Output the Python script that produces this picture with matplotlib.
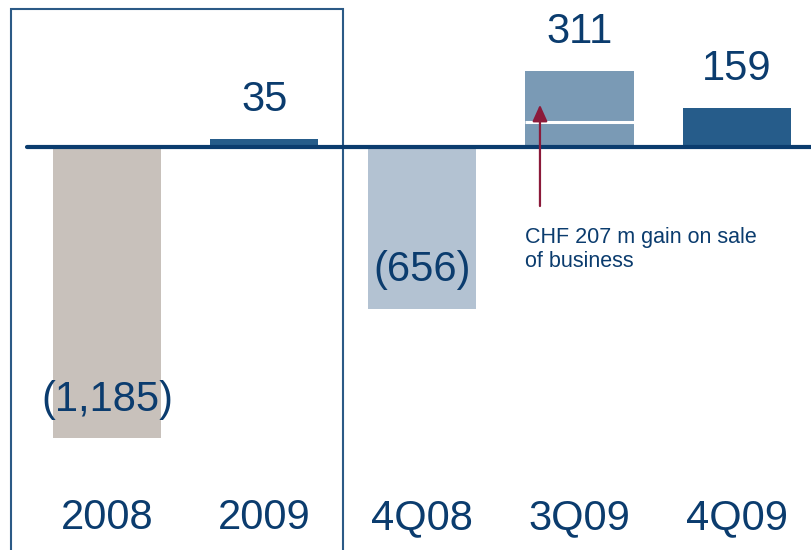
import matplotlib.pyplot as plt
from matplotlib.patches import Rectangle

plt.rcParams['font.family'] = ['Liberation Sans', 'DejaVu Sans']

# Net income (CHF m)
categories = ['2008', '2009', '4Q08', '3Q09', '4Q09']
values = [-1185, 35, -656, 311, 159]
value_labels = ['(1,185)', '35', '(656)', '311', '159']
gain_on_sale = 207   # part of 3Q09
colors = ['#c8c1bb', '#265c8a', '#b3c2d2', '#7a9ab5', '#265c8a']

navy = '#0b3c6e'
box_color = '#2b5a86'

fig = plt.figure(figsize=(8.12, 5.5), dpi=100)
ax = fig.add_axes([0, 0, 1, 1])
ax.set_xlim(-0.679, 4.476)
ax.set_ylim(-1639, 600)
ax.axis('off')

width = 0.686

for i, (v, c) in enumerate(zip(values, colors)):
    ax.bar(i, v, width=width, color=c, zorder=2)

# split 3Q09 into underlying result and gain on sale
i3 = categories.index('3Q09')
split = values[i3] - gain_on_sale
ax.hlines(split, i3 - width / 2, i3 + width / 2, colors='white', linewidth=2.2, zorder=3)

# baseline
ax.plot([-0.508, 4.476], [0, 0], color=navy, linewidth=3, solid_capstyle='round', zorder=4)

# box around annual figures
ax.add_patch(Rectangle((-0.61, -1700), 2.11, 2262, fill=False, edgecolor=box_color,
                       linewidth=1.5, zorder=1, clip_on=False))

# value labels
for i, (v, lab) in enumerate(zip(values, value_labels)):
    ax.annotate(lab, (i, v), xytext=(0, 28), textcoords='offset points',
                ha='center', va='center', fontsize=30, color=navy, zorder=5)

# category labels
for i, cat in enumerate(categories):
    ax.text(i, -1510, cat, ha='center', va='center', fontsize=30, color=navy)

# annotation for the gain on sale
ax.annotate('', xy=(2.749, 185), xytext=(2.749, -250),
            arrowprops=dict(arrowstyle='-|>,head_width=0.45,head_length=1.0',
                            color='#8b1a3a', linewidth=1.6), zorder=6)
ax.text(2.654, -415, 'CHF 207 m gain on sale\nof business', ha='left', va='center',
        fontsize=15.5, color=navy, linespacing=1.2)

fig.savefig('out.png', dpi=100)
